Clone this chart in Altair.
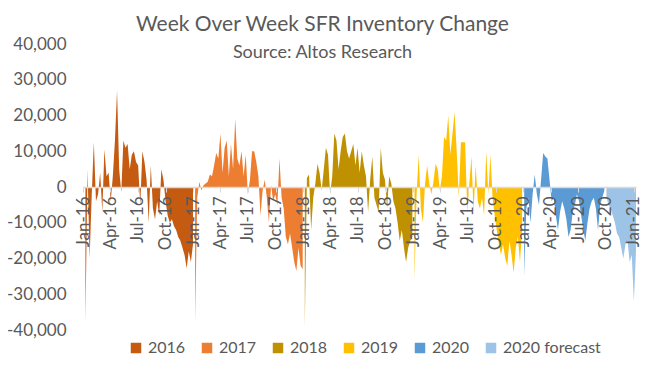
import altair as alt
import pandas as pd

series_names = ["2016", "2017", "2018", "2019", "2020", "2020 forecast"]
series_colors = ["#C55A11", "#ED7D31", "#BF9000", "#FFC000", "#5B9BD5", "#9DC3E6"]
first_week = "2016-01-09"

v2016 = [-38000, 5000, -20000, -2000, 12500, -4000, -2000, 4000, -7000, 10500,
         3000, 4000, -4000, 3000, 13000, 27000, 5000, -1500, 13000, 11000,
         12000, 5000, 9000, 10000, 7000, 6000, -5000, 10000, 7000, 2000,
         -10000, 6000, -6000, -9000, -4000, -8000, 5000, 2000, -4000, -8000,
         -10000, -9000, -11000, -12000, -14000, -15000, -17000, -19000, -22700, -18000,
         -21000, -16000]
v2017 = [-38000, -3000, 1500, -1000, 500, 1000, 1500, 3500, 3000, 6000,
         9500, 8000, 15000, 4000, 11000, 13000, 3000, 12000, 5000, 19000,
         8000, 6000, 10000, 3000, 9000, -2000, 2000, 10000, 10000, 7000,
         3000, -8000, -1000, 2000, -3000, -10000, 500, -4000, -2000, -5000,
         8000, -3000, -6000, -14000, -16000, -13000, -17000, -21000, -23500, -17000,
         -22000, -23000]
v2018 = [-39000, 2500, 3500, -12000, -3000, 1000, 6500, 4000, -1000, 5000,
         11000, 9000, -2000, 3000, 15000, 13000, 5000, 10000, 14000, 15000,
         10000, 8000, 10000, 12000, 6000, 11000, 4000, 10000, 6000, 3000,
         -7000, 2000, 8500, -3000, -5000, -7000, 11000, 4000, 2000, -6000,
         3000, 1000, -4000, -6000, -10000, -15000, -12000, -17000, -21000, -17000,
         -15000, -14000]
v2019 = [-26000, -2000, 9000, -6000, -10000, 1000, 6000, 1000, -2000, 1500,
         6500, 5000, -1000, 3000, 14000, 13000, 20000, 9000, 15000, 21000,
         10000, -3000, 12500, 12500, 12500, -7000, 1000, 8500, -7000, 6000,
         -4000, -6000, -3000, -8000, 10000, -2000, 9000, -3000, -8000, -12000,
         -16000, -19000, -16000, -20000, -22000, -15000, -19000, -24000, -17000, -14000,
         -21000, -12000]
v2020 = [-25000, -6000, -3000, -10000, -2000, 3500, -2000, -5000, 2000, 9500,
         8500, 8000, 2000, -4000, -3000, -8000, -12000, -7000, -4000, -6000,
         -9000, -14000, -12000, -7000, -5000, -2000, -4000, -8000, -12000, -15000,
         -10000, -6000, -4000, -3000, -6000, -12000, -5000, -3000, -1000]
v2020_forecast = [-3000, -5000, -6000, -8000, -10000, -13000, -14000, -17000, -20000, -16000,
                  -15000, -21000, -19000, -32000, -18000]

y_ticks = [-40000, -30000, -20000, -10000, 0, 10000, 20000, 30000, 40000]
x_tick_months = [(y, m) for y in range(2016, 2021) for m in (1, 4, 7, 10)] + [(2021, 1)]

all_series = [v2016, v2017, v2018, v2019, v2020, v2020_forecast]
values, labels = [], []
for name, vals in zip(series_names, all_series):
    values += vals
    labels += [name] * len(vals)
dates = pd.date_range(first_week, periods=len(values), freq="7D")
df = pd.DataFrame({"date": dates.strftime("%Y-%m-%d"), "change": values, "series": labels})

W, H = 553, 286
grey = "#595959"

chart = alt.Chart(df).mark_area(interpolate="linear").encode(
    x=alt.X("date:T",
            scale=alt.Scale(domain=[alt.DateTime(year=2016, month=1, date=1),
                                    alt.DateTime(year=2021, month=1, date=9)]),
            axis=alt.Axis(title=None, orient="bottom", offset=-H / 2,
                          values=[alt.DateTime(year=y, month=m, date=1) for y, m in x_tick_months],
                          format="%b-%y", labelAngle=270, labelFontSize=17, labelColor=grey,
                          domainColor="#D9D9D9", domainWidth=1.5, tickColor="#D9D9D9",
                          tickSize=5, labelPadding=4, grid=False, zindex=1, labelFlush=False,
                          labelOverlap=False)),
    y=alt.Y("change:Q", stack=None,
            scale=alt.Scale(domain=[-40000, 40000], nice=False),
            axis=alt.Axis(title=None, values=y_ticks, grid=False, domain=False, ticks=False,
                          labelFontSize=17, labelColor=grey, labelPadding=17,
                          labelExpr="replace(format(datum.value, ','), '\u2212', '-')")),
    color=alt.Color("series:N",
                    scale=alt.Scale(domain=series_names, range=series_colors),
                    legend=alt.Legend(title=None, orient="none", legendX=45, legendY=296,
                                      direction="horizontal", columns=6, symbolType="square",
                                      symbolSize=110, symbolStrokeWidth=0, labelFontSize=16,
                                      labelColor=grey, columnPadding=13, labelOffset=4)),
).properties(
    width=W, height=H,
    title=alt.Title("Week Over Week SFR Inventory Change", subtitle="Source: Altos Research",
                    fontSize=21, subtitleFontSize=18, fontWeight="normal", color=grey,
                    subtitleColor=grey, anchor="middle", dx=-37, offset=-27, subtitlePadding=9),
    autosize=alt.AutoSizeParams(type="none"),
    padding={"left": 75, "top": 36, "right": 8, "bottom": 38},
).configure(font="Lato", background="white").configure_view(stroke=None)

chart.save("out.html", embed_options={"renderer": "svg", "actions": False})
